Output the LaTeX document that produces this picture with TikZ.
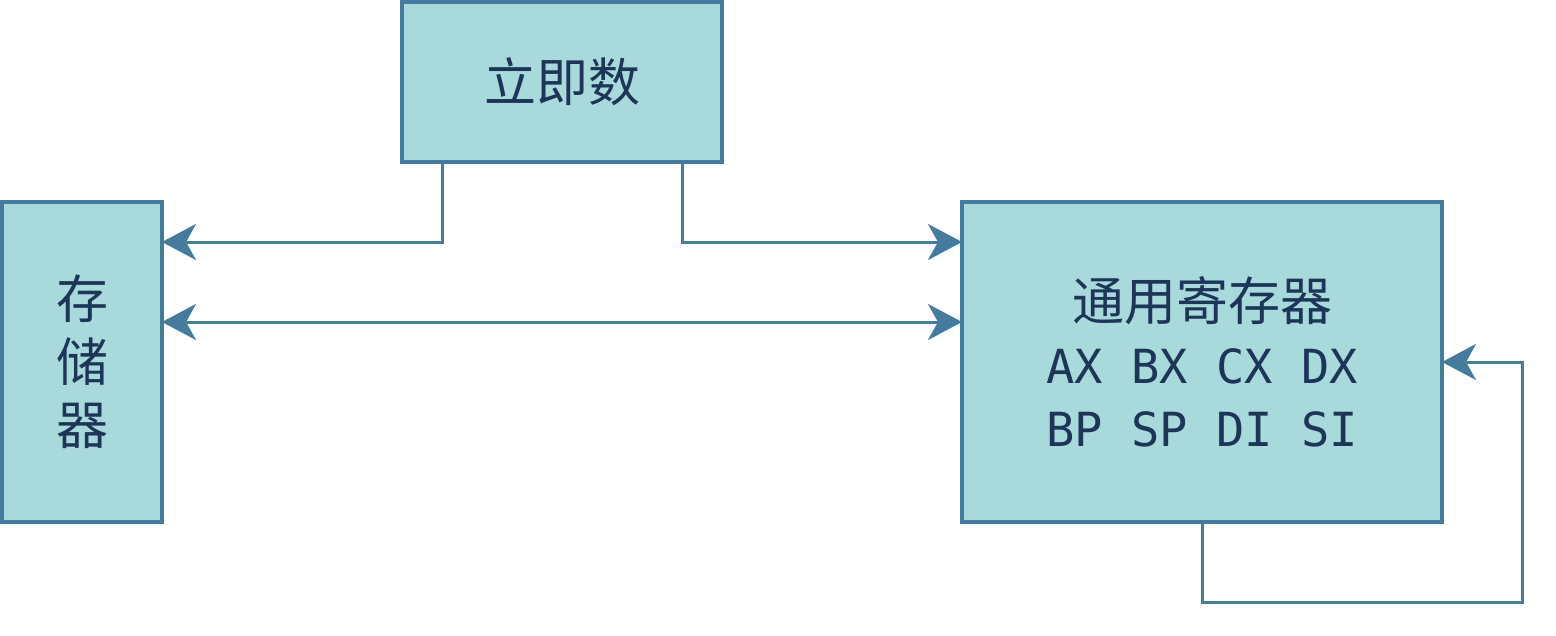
\documentclass[tikz,border=0pt]{standalone}
\usepackage{fontspec}
\newfontfamily\cjk{Noto Sans CJK SC}
\newfontfamily\regfont{DejaVu Sans Mono}
\usepackage{tikz}
\usetikzlibrary{arrows.meta,positioning,calc}

\definecolor{boxfill}{HTML}{A8DADC}
\definecolor{boxline}{HTML}{457B9D}
\definecolor{boxtext}{HTML}{1D3557}

\begin{document}
\begin{tikzpicture}[
  x=0.5pt, y=-0.5pt,
  font=\cjk\fontsize{26}{31.5}\selectfont,
  box/.style={draw=boxline, line width=1.8pt, fill=boxfill, text=boxtext,
              align=center, inner sep=0pt, outer sep=0pt},
  arr/.style={draw=boxline, line width=1.5pt,
              -{Stealth[length=17pt, width=18pt, inset=5pt]}},
  dblarr/.style={arr, {Stealth[length=17pt, width=18pt, inset=5pt]}-{Stealth[length=17pt, width=18pt, inset=5pt]}}
]
\useasboundingbox (0,0) rectangle (1556,636);

% ---------- Bloques ----------
\node[box, minimum width=160pt, minimum height=80pt] (imm) at (562,82) {立即数};
\node[box, minimum width=80pt, minimum height=160pt] (mem) at (82,362) {存\\储\\器};
\node[box, minimum width=240pt, minimum height=160pt] (reg) at (1202,362)
  {通用寄存器\\
   {\regfont\fontsize{23.5}{30.5}\selectfont AX BX CX DX}\\
   {\regfont\fontsize{23.5}{30.5}\selectfont BP SP DI SI}};

% ---------- Conexiones ----------
\draw[arr] ([xshift=20pt]imm.south west) |- ([yshift=-20pt]mem.north east);
\draw[arr] ([xshift=-20pt]imm.south east) |- ([yshift=-20pt]reg.north west);
\draw[dblarr] ([yshift=20pt]mem.east) -- ([yshift=20pt]reg.west);
\coordinate (loop) at (1522,602);
\draw[arr] (reg.south) |- (loop) |- (reg.east);

\end{tikzpicture}
\end{document}
